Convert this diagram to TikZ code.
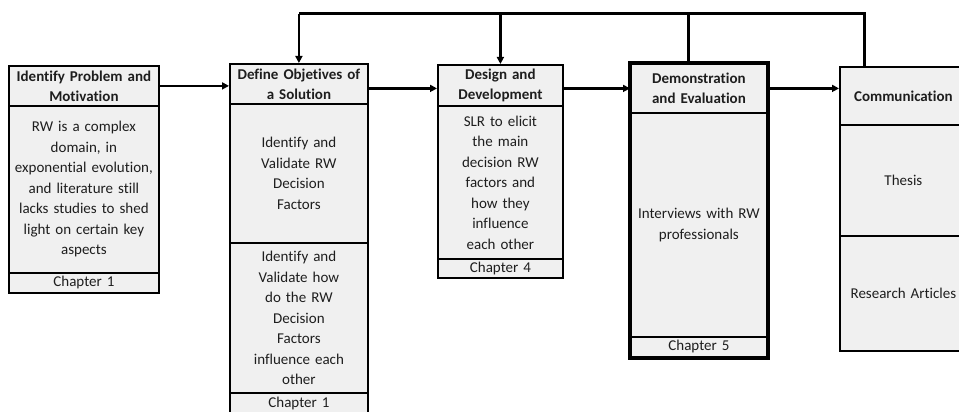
\documentclass[tikz,border=0pt]{standalone}
\usepackage{fontspec}
\setmainfont{Carlito}[Ligatures={NoCommon}]
\usetikzlibrary{arrows.meta}
\definecolor{boxfill}{HTML}{F0F0F0}
\definecolor{textc}{HTML}{1E1E1E}
\tikzset{
  sec/.style={draw=black, line width=1.8pt, fill=boxfill, inner sep=2pt, anchor=north west,
    align=center, text=textc, font=\fontsize{15}{20.5}\selectfont},
  hd/.style={sec, font=\fontsize{15}{20}\selectfont\bfseries},
  conn/.style={line width=2.4pt, draw=black},
  arr/.style={conn, -{Triangle[length=7pt,width=7pt]}},
  topline/.style={line width=3pt, draw=black}
}
\begin{document}
\begin{tikzpicture}[x=1pt,y=1pt]
\useasboundingbox (0,0) rectangle (959,-412);
% Box 1
\node[hd, text width=146pt, minimum height=40pt] (h1) at (8,-65) {Identify Problem and\\Motivation};
\node[sec, text width=146pt, minimum height=167pt] (b1) at (8,-105) {RW is a complex\\domain, in\\exponential evolution,\\and literature still\\lacks studies to shed\\light on certain key\\aspects};
\node[sec, text width=146pt, minimum height=20pt] (c1) at (8,-272) {Chapter 1};
% Box 2
\node[hd, text width=134pt, minimum height=40pt] (h2) at (229,-63) {Define Objetives of\\a Solution};
\node[sec, text width=134pt, minimum height=139pt] (b2a) at (229,-103) {Identify and\\Validate RW\\Decision\\Factors};
\node[sec, text width=134pt, minimum height=150pt] (b2b) at (229,-242) {Identify and\\Validate how\\do the RW\\Decision\\Factors\\influence each\\other};
\node[sec, text width=134pt, minimum height=22pt] (c2) at (229,-392) {Chapter 1};
% Box 3
\node[hd, text width=121pt, minimum height=41pt] (h3) at (437,-64) {Design and\\Development};
\node[sec, text width=121pt, minimum height=153pt] (b3) at (437,-105) {SLR to elicit\\the main\\decision RW\\factors and\\how they\\influence\\each other};
\node[sec, text width=121pt, minimum height=19pt] (c3) at (437,-258) {Chapter 4};
% Box 4
\node[hd, text width=132pt, minimum height=49pt] (h4) at (630,-63) {Demonstration\\and Evaluation};
\node[sec, text width=132pt, minimum height=224pt] (b4) at (630,-112) {Interviews with RW\\professionals};
\node[sec, text width=132pt, minimum height=20pt] (c4) at (630,-336) {Chapter 5};
\draw[line width=3.6pt] (h4.north west) rectangle (c4.south east);
% Box 5
\node[hd, text width=123pt, minimum height=58pt] (h5) at (839,-66) {Communication};
\node[sec, text width=123pt, minimum height=111pt] (b5a) at (839,-124) {Thesis};
\node[sec, text width=123pt, minimum height=115pt] (b5b) at (839,-235) {Research Articles};
% horizontal connectors
\draw[arr] (h1.east) -- (h1.east -| h2.west);
\draw[arr] (h2.east |- h4.east) -- (h3.west |- h4.east);
\draw[arr] (h3.east |- h4.east) -- (h4.west);
\draw[arr] (h4.east) -- (h4.east -| h5.west);
% feedback line
\coordinate (ytop) at (0,-14);
\coordinate (f4) at (688,-63);
\coordinate (f5) at (864,-66);
\draw[topline] (f5) -- (f5 |- ytop) -- (h2.north |- ytop);
\draw[topline] (f4) -- (f4 |- ytop);
\draw[arr] (h2.north |- ytop) -- (h2.north);
\draw[arr] (h3.north |- ytop) -- (h3.north);
\end{tikzpicture}
\end{document}
